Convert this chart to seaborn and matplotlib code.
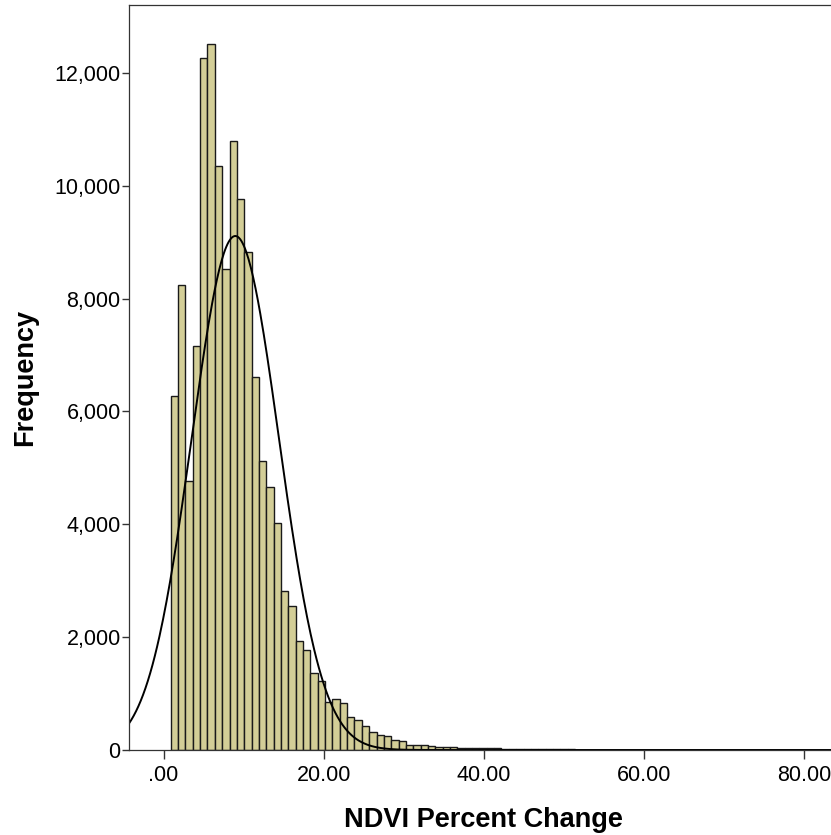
import numpy as np
import pandas as pd
import seaborn as sns
import matplotlib
matplotlib.use("Agg")
import matplotlib.pyplot as plt
from matplotlib.ticker import FuncFormatter

# histogram bins
bin_start = 0.886
bin_width = 0.9176
counts = [6266, 8233, 4773, 7152, 12260, 12513, 10353, 8523, 10795, 9763,
          8829, 6605, 5128, 4667, 4024, 2825, 2559, 1935, 1780, 1367,
          1231, 845, 900, 840, 585, 525, 420, 325, 257, 245,
          186, 165, 97, 95, 80, 67, 55, 52, 48, 40,
          38, 35, 32, 30, 28, 25, 22, 20, 18, 16,
          14, 12, 11, 10, 9, 8, 7, 6, 5, 5,
          4, 0, 3, 0, 0, 3, 2, 0, 0, 0,
          0, 0, 0, 0, 0, 0, 0, 0, 0, 0,
          0, 0, 2, 0, 0, 2]

# normal curve drawn over the histogram
curve_mean = 8.95
curve_sd = 5.45
curve_peak = 9110

x_ticks = [0, 20, 40, 60, 80]
y_ticks = [0, 2000, 4000, 6000, 8000, 10000, 12000]
x_title = "NDVI Percent Change"
y_title = "Frequency"

bar_color = "#d3ce97"
edge_color = "#1a1a1a"
spine_color = "#333333"

# build data
edges = bin_start + bin_width * np.arange(len(counts) + 1)
hist_df = pd.DataFrame({"value": (edges[:-1] + edges[1:]) / 2, "count": counts})

x_min, x_max = -4.32, 83.32
curve_x = np.linspace(x_min, x_max, 600)
curve_df = pd.DataFrame({"value": curve_x,
                         "freq": curve_peak * np.exp(-0.5 * ((curve_x - curve_mean) / curve_sd) ** 2)})

# style
sns.set_style("white")
plt.rcParams["font.family"] = ["Liberation Sans", "DejaVu Sans"]
plt.rcParams["text.color"] = "black"
plt.rcParams["axes.labelcolor"] = "black"
plt.rcParams["xtick.color"] = "black"
plt.rcParams["ytick.color"] = "black"

fig = plt.figure(figsize=(8.31, 8.35), dpi=100)
ax = fig.add_axes([129 / 831, 85 / 835, 702 / 831, 745 / 835])

sns.histplot(data=hist_df, x="value", weights="count",
             binwidth=bin_width, binrange=(float(edges[0]), float(edges[-1])), ax=ax,
             color=bar_color, edgecolor=edge_color, linewidth=1.0, alpha=1)
sns.lineplot(data=curve_df, x="value", y="freq", ax=ax, color="black", linewidth=1.4)

ax.set_xlim(x_min, x_max)
ax.set_ylim(0, 13204)

ax.set_xticks(x_ticks)
ax.set_yticks(y_ticks)
ax.xaxis.set_major_formatter(FuncFormatter(lambda v, p: ".00" if v == 0 else f"{v:.2f}"))
ax.yaxis.set_major_formatter(FuncFormatter(lambda v, p: f"{v:,.0f}"))
ax.tick_params(axis="x", direction="out", length=6.5, width=1, color=spine_color,
               labelcolor="black", labelsize=15.5, pad=4, bottom=True)
ax.tick_params(axis="y", direction="out", length=5, width=1, color=spine_color,
               labelcolor="black", labelsize=15.5, pad=1, left=True)

for side in ["left", "bottom", "top"]:
    ax.spines[side].set_visible(True)
    ax.spines[side].set_color(spine_color)
    ax.spines[side].set_linewidth(0.9)
ax.spines["right"].set_visible(False)

ax.set_xlabel(x_title, fontsize=19.5, fontweight="bold", color="black")
ax.set_ylabel(y_title, fontsize=19.5, fontweight="bold", color="black")
ax.xaxis.label.set_va("center")
ax.yaxis.label.set_va("center")
ax.xaxis.set_label_coords(0.505, -0.094)
ax.yaxis.set_label_coords(-0.148, 0.5)

fig.savefig("out.png", dpi=100)
plt.close()
